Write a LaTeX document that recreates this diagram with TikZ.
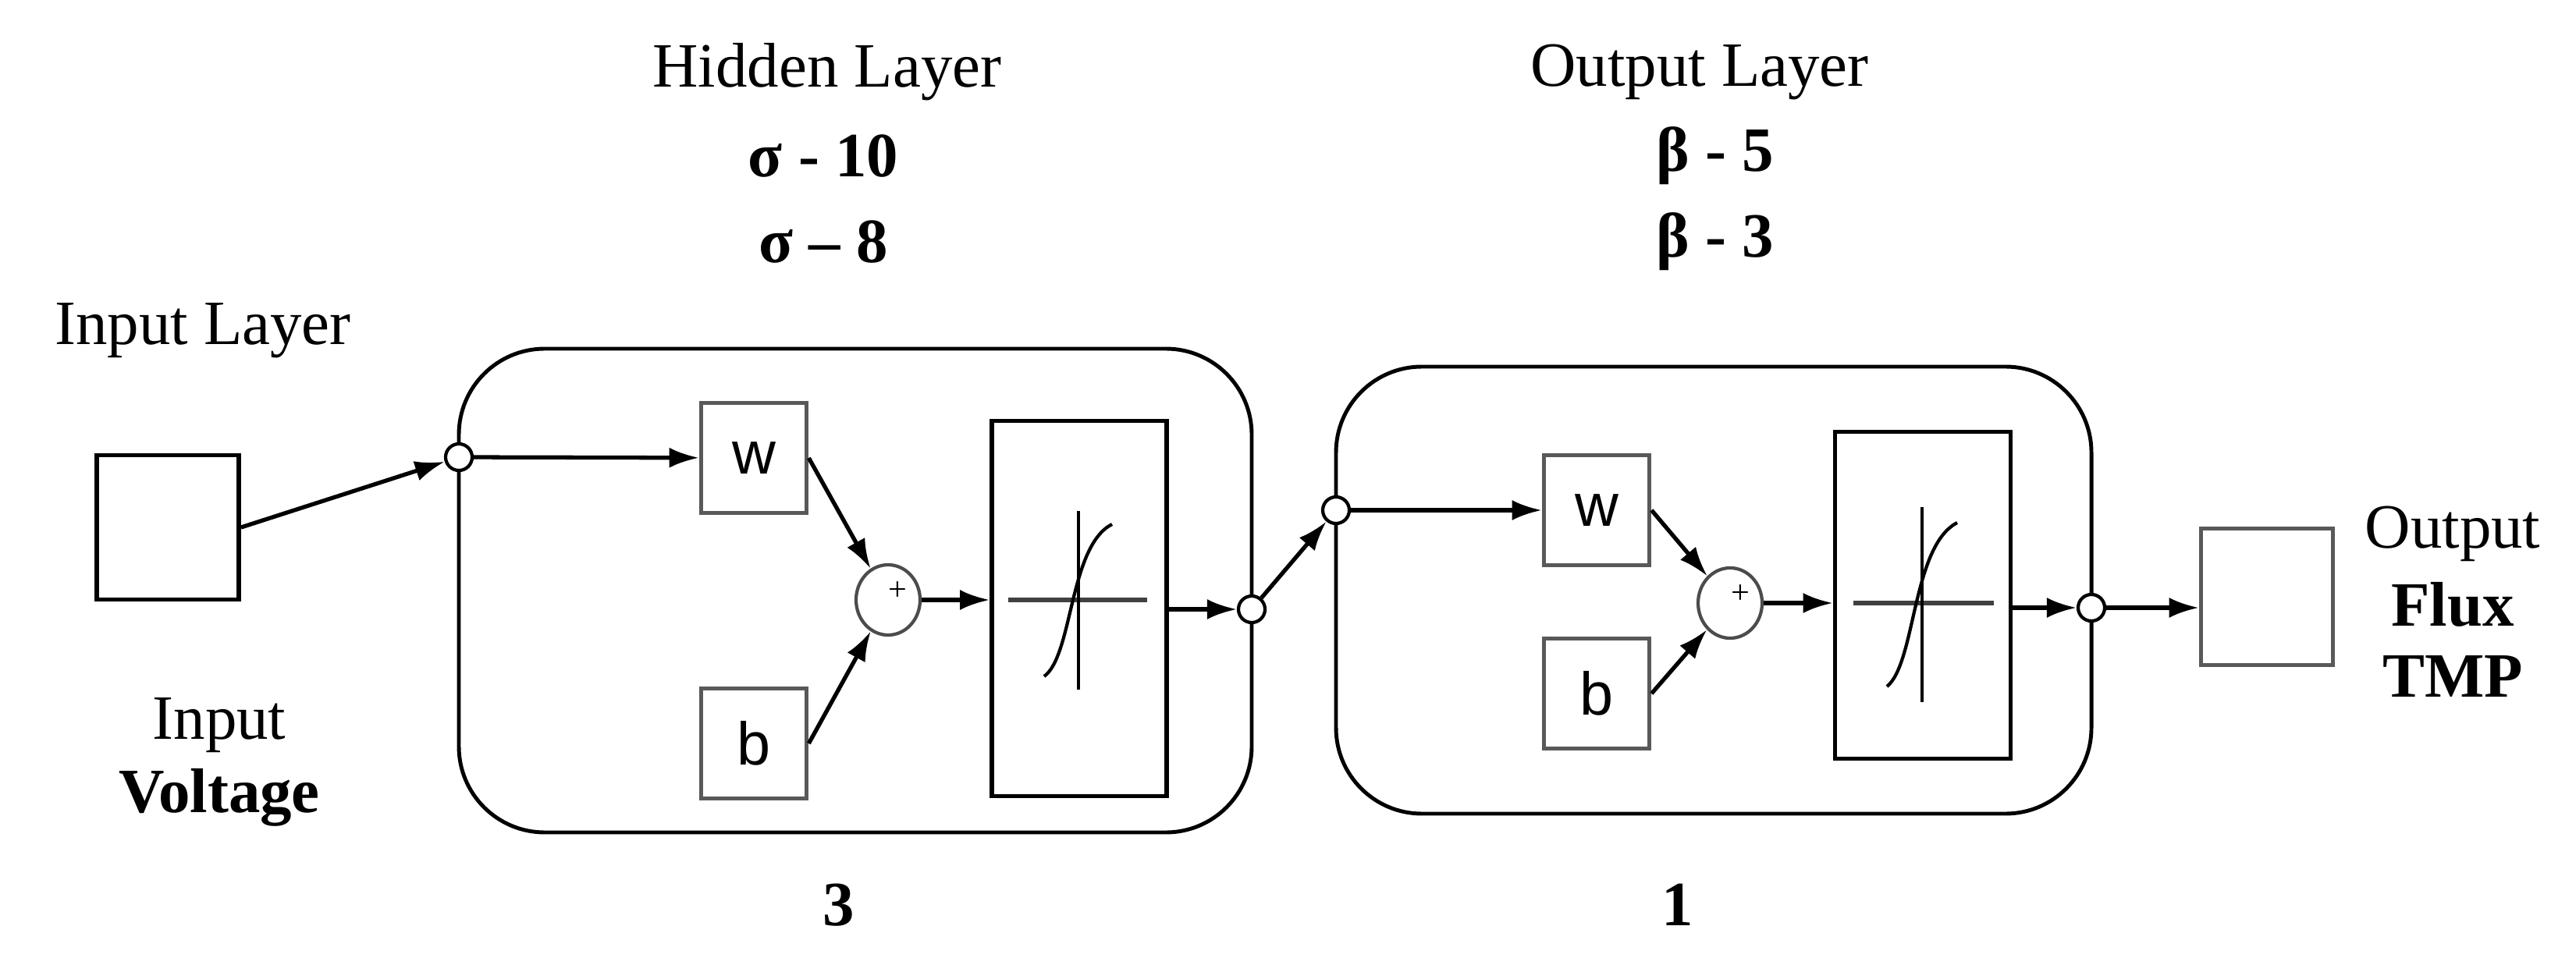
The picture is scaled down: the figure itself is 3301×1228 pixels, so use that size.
\documentclass[tikz,border=0pt]{standalone}
\usepackage{fontspec}
\setmainfont{Liberation Serif}
\setsansfont{Liberation Sans}
\usetikzlibrary{arrows.meta,shapes.geometric}
\begin{document}
\begin{tikzpicture}[x=0.01cm,y=-0.01cm,
  txt/.style={font=\fontsize{23}{27}\selectfont, inner sep=0pt, align=center},
  btxt/.style={font=\fontsize{23}{27}\selectfont\bfseries, inner sep=0pt},
  gbox/.style={draw=black!65, line width=1.6pt, minimum width=1.35cm, minimum height=1.41cm, inner sep=0pt, font=\sffamily\fontsize{22}{24}\selectfont},
  io/.style={draw, line width=1.6pt, inner sep=0pt},
  junc/.style={circle, draw, fill=white, line width=1.2pt, minimum size=0.34cm, inner sep=0pt},
  sum/.style={ellipse, draw=black!70, line width=1.2pt, minimum width=0.82cm, minimum height=0.9cm, inner sep=0pt},
  layer/.style={draw, line width=1.4pt, rounded corners=1.1cm},
  tf/.style={draw, line width=1.6pt, inner sep=0pt},
  arr/.style={line width=1.5pt, -{Latex[length=0.38cm,width=0.26cm]}}]
\useasboundingbox (0,0) rectangle (3301,1228);
% texts
\node[txt] (tin) at (260,424) {Input Layer};
\node[txt] (tin2) at (281,930) {Input};
\node[btxt] (tin3) at (281,1022) {Voltage};
\node[txt] (thid) at (1060,92) {Hidden Layer};
\node[btxt] (ts1) at (1055,200) {σ - 10};
\node[btxt] (ts2) at (1055,310) {σ – 8};
\node[txt] (tout) at (2178,92) {Output Layer};
\node[btxt] (tb1) at (2198,200) {β - 5};
\node[btxt] (tb2) at (2198,310) {β - 3};
\node[btxt] (n3) at (1075,1160) {3};
\node[btxt] (n1) at (2150,1160) {1};
\node[txt] (to1) at (3143,684) {Output};
\node[btxt] (to2) at (3143,775) {Flux};
\node[btxt] (to3) at (3143,867) {TMP};
% layer boxes
\draw[layer] (588,447) rectangle (1604,1067);
\draw[layer] (1712,470) rectangle (2680,1043);
% input / output boxes
\node[io, minimum width=1.82cm, minimum height=1.85cm] (inb) at (215,676) {};
\node[io, draw=black!65, minimum width=1.69cm, minimum height=1.75cm] (outb) at (2905,765) {};
% hidden layer
\node[junc] (j1) at (588,586) {};
\node[gbox] (w1) at (966,587) {w};
\node[gbox] (b1) at (966,953) {b};
\node[sum] (s1) at (1138,769) {};
\node[font=\fontsize{12}{12}\selectfont, inner sep=0pt] (p1) at (1150,758) {+};
\node[tf, minimum width=2.24cm, minimum height=4.81cm] (f1) at (1383,780) {};
\draw[line width=1.5pt, black!75] (1292,769) -- (1470,769);
\draw[line width=1.2pt] (1382,655) -- (1382,884);
\draw[line width=1.2pt] (1338,867) .. controls (1375,840) and (1370,700) .. (1425,672);
\node[junc] (j2) at (1604,781) {};
% output layer
\node[junc] (j3) at (1712,654) {};
\node[gbox] (w2) at (2046,654) {w};
\node[gbox] (b2) at (2046,889) {b};
\node[sum] (s2) at (2217,773) {};
\node[font=\fontsize{12}{12}\selectfont, inner sep=0pt] (p2) at (2230,762) {+};
\node[tf, minimum width=2.25cm, minimum height=4.19cm] (f2) at (2464,763) {};
\draw[line width=1.5pt, black!75] (2375,773) -- (2555,773);
\draw[line width=1.2pt] (2463,650) -- (2463,900);
\draw[line width=1.2pt] (2418,880) .. controls (2455,850) and (2450,700) .. (2508,670);
\node[junc] (j4) at (2680,779) {};
% connectors
\draw[arr] (inb.east) -- (j1);
\draw[arr] (j1) -- (w1);
\draw[arr] (w1.east) -- (s1);
\draw[arr] (b1.east) -- (s1);
\draw[arr] (s1) -- (f1.west |- s1);
\draw[arr] (f1.east |- j2) -- (j2);
\draw[arr] (j2) -- (j3);
\draw[arr] (j3) -- (w2);
\draw[arr] (w2.east) -- (s2);
\draw[arr] (b2.east) -- (s2);
\draw[arr] (s2) -- (f2.west |- s2);
\draw[arr] (f2.east |- j4) -- (j4);
\draw[arr] (j4) -- (j4 -| outb.west);
\end{tikzpicture}
\end{document}
